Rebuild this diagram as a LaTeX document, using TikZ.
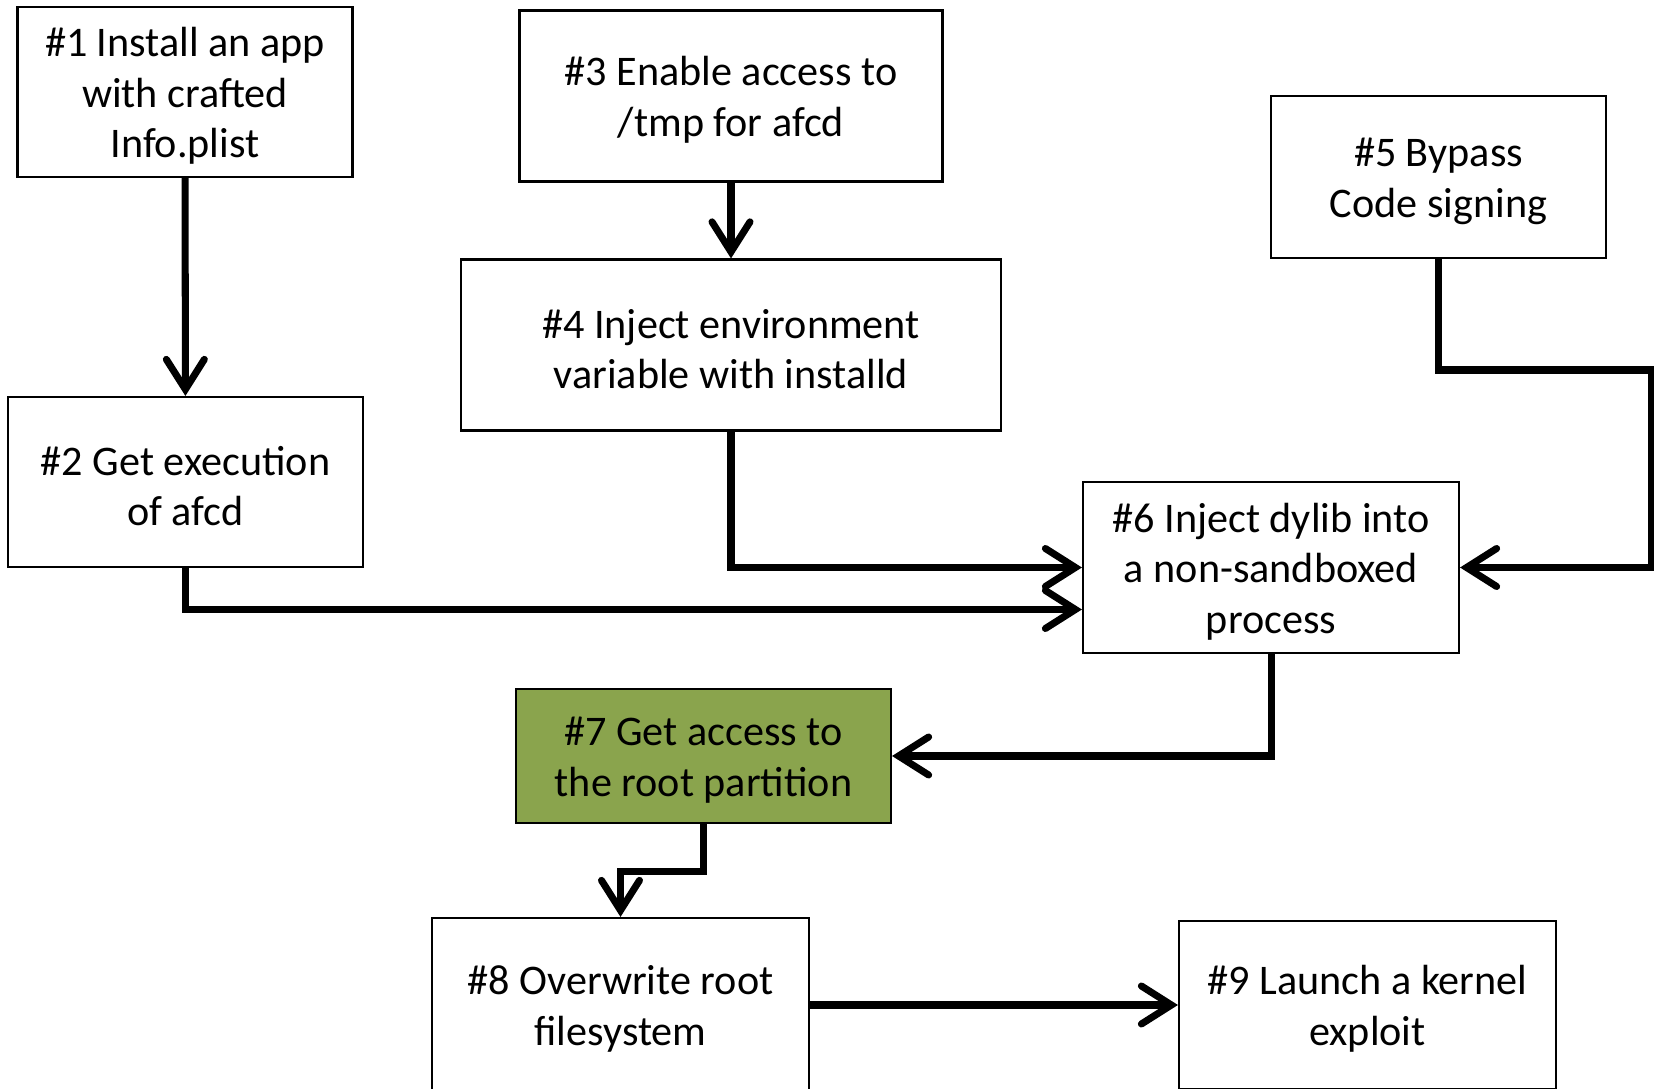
\documentclass[tikz,border=0pt]{standalone}
\usepackage{fontspec}
\setmainfont{Carlito}
\usepackage{tikz}
\usetikzlibrary{positioning}
\usetikzlibrary{calc}
\usetikzlibrary{arrows.meta}
\definecolor{olive}{RGB}{138,164,77}
\newcommand{\topstrut}{\rule{0pt}{10.6pt}}   % a taller first line sets the text a little lower

\begin{document}
\begin{tikzpicture}
% -------------------------------------------------
\tikzset{
  base/.style={draw, line width=0.6pt, align=center, inner sep=0pt, font=\fontsize{12}{14.4}\selectfont},
  rect/.style={base, rectangle, fill=white},
  line/.style={draw, line width=2pt, -{Straight Barb[length=3mm, width=3.8mm, line cap=round]}}
}

    \useasboundingbox (0,0) rectangle (16.54,-10.89);               % page frame

    \node [rect, minimum width=3.35cm, minimum height=1.70cm] (ins) at (1.85,-0.92)   {\topstrut\#1 Install an app\\with crafted\\Info.plist};
    \node [rect, minimum width=3.55cm, minimum height=1.70cm] (afc) at (1.855,-4.82)  {\topstrut\#2 Get execution\\of afcd};
    \node [rect, minimum width=4.23cm, minimum height=1.71cm] (tmp) at (7.31,-0.96)   {\topstrut\#3 Enable access to\\/tmp for afcd};
    \node [rect, minimum width=5.40cm, minimum height=1.71cm] (env) at (7.31,-3.45)   {\topstrut\#4 Inject environment\\variable with installd};
    \node [rect, minimum width=3.35cm, minimum height=1.62cm] (sig) at (14.385,-1.77) {\topstrut\#5 Bypass\\Code signing};
    \node [rect, minimum width=3.76cm, minimum height=1.71cm] (dyl) at (12.71,-5.675) {\topstrut\#6 Inject dylib into\\a non-sandboxed\\process};
    \node [rect, minimum width=3.75cm, minimum height=1.34cm, fill=olive] (rot) at (7.035,-7.56) {\topstrut\#7 Get access to\\the root partition};
    \node [rect, minimum width=3.77cm, minimum height=1.74cm] (ovw) at (6.205,-10.05) {\topstrut\#8 Overwrite root\\filesystem};
    \node [rect, minimum width=3.77cm, minimum height=1.68cm] (krn) at (13.675,-10.05) {\topstrut\#9 Launch a kernel\\exploit};

    \coordinate (edge) at (16.51,-3.70);                             % turn point at the right border

    \path [line] (ins) -- (afc);
    \path [line] (tmp) -- (env);
    \path [line] (afc.south) |- ([yshift=-0.42cm]dyl.west);
    \path [line] (env.south) |- (dyl.west);
    \path [line] (sig.south) |- (edge) |- (dyl.east);
    \path [line] (dyl.south) |- (rot.east);
    \path [line] (rot.south) -- ++(0,-0.47) -| (ovw.north);
    \path [line] (ovw) -- (krn);

\end{tikzpicture}
\end{document}
